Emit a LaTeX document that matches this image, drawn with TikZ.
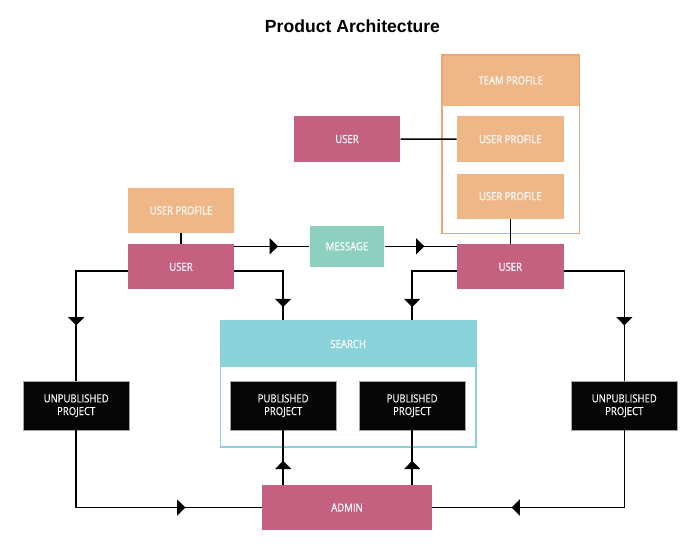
\documentclass[tikz,border=0pt]{standalone}
\usepackage{fontspec}
\setmainfont{Liberation Sans}
\newfontfamily\boxfont[FakeStretch=0.85,FakeBold=0.3]{Open Sans}
\usetikzlibrary{arrows.meta,decorations.markings}
\definecolor{rose}{RGB}{197,97,128}
\definecolor{peach}{RGB}{239,182,136}
\definecolor{peachline}{RGB}{236,168,116}
\definecolor{mint}{RGB}{142,208,192}
\definecolor{aqua}{RGB}{139,211,218}
\definecolor{ink}{RGB}{6,6,6}
\tikzset{
  box/.style={rectangle, inner sep=0pt, text=white, align=center,
    font=\boxfont\fontsize{8.4pt}{9.5pt}\selectfont},
  rosebox/.style={box, fill=rose},
  peachbox/.style={box, fill=peach},
  inkbox/.style={box, fill=ink, draw=gray!70, line width=0.5pt,
    minimum width=79.9pt, minimum height=36.5pt},
  conn/.style={line width=1.1pt, draw=black},
  tipmark/.style={postaction={decorate}, decoration={markings,
    mark=at position #1 with {\arrow{Triangle[length=6.2pt,width=12pt]}}}},
  titletext/.style={font=\fontsize{13.2pt}{15pt}\selectfont\bfseries}
}
\begin{document}
\begin{tikzpicture}[x=0.75pt,y=-0.75pt]
\useasboundingbox (0,0) rectangle (700,558);
\node[titletext] (title) at (352.5,26) {Product Architecture};

% team profile group
\node[peachbox, minimum width=103pt, minimum height=38pt] (teamhead) at (510.7,80.35) {TEAM PROFILE};
\node[draw=peachline, line width=1.2pt, minimum width=103pt, minimum height=133.7pt, inner sep=0pt] (team) at (510.7,144.2) {};
\node[peachbox, minimum width=80pt, minimum height=34.3pt] (upin1) at (510.3,139.2) {USER PROFILE};
\node[peachbox, minimum width=80pt, minimum height=33.75pt] (upin2) at (510.3,196.2) {USER PROFILE};

\node[rosebox, minimum width=80pt, minimum height=34.3pt] (usertop) at (347,139) {USER};

\node[peachbox, minimum width=79.5pt, minimum height=33.75pt] (upL) at (181,210.5) {USER PROFILE};
\node[rosebox, minimum width=79.5pt, minimum height=33.75pt] (userL) at (181,266.8) {USER};
\node[box, fill=mint, minimum width=56pt, minimum height=31pt] (message) at (347,246.3) {MESSAGE};
\node[rosebox, minimum width=80pt, minimum height=33.75pt] (userR) at (510.3,266.8) {USER};

% search group
\node[box, fill=aqua, minimum width=191.6pt, minimum height=34.5pt] (searchhead) at (348.2,344) {SEARCH};
\node[draw=aqua, line width=1.1pt, minimum width=191.6pt, minimum height=94.5pt, inner sep=0pt] (search) at (348.2,384) {};
\node[inkbox] (pub1) at (283.2,405.7) {PUBLISHED\\PROJECT};
\node[inkbox] (pub2) at (412.2,405.7) {PUBLISHED\\PROJECT};

\node[inkbox] (unpubL) at (76.2,405.7) {UNPUBLISHED\\PROJECT};
\node[inkbox] (unpubR) at (624.3,405.7) {UNPUBLISHED\\PROJECT};

\node[rosebox, minimum width=126.8pt, minimum height=33.75pt] (admin) at (347,507.5) {ADMIN};

% connectors
\draw[conn] (upL) -- (userL);
\draw[conn] (usertop) -- (upin1);
\draw[conn] (upin2) -- (userR);
\draw[conn, tipmark=32.8pt] (message.west -| userL.east) -- (message.west);
\draw[conn, tipmark=29.8pt] (message.east) -- (message.east -| userR.west);
\draw[conn, tipmark=79.6pt] ([yshift=-3pt]userL.west) -| (unpubL.north);
\draw[conn, tipmark=63.9pt] ([yshift=-3pt]userL.east) -| (pub1.north |- search.north);
\draw[conn, tipmark=60.6pt] ([yshift=-3pt]userR.west) -| (pub2.north |- search.north);
\draw[conn, tipmark=86.2pt] ([yshift=-3pt]userR.east) -| (unpubR.north);
\draw[conn, tipmark=18pt] (admin.north -| pub1.south) -- (pub1.south);
\draw[conn, tipmark=18pt] (admin.north -| pub2.south) -- (pub2.south);
\draw[conn, tipmark=139.7pt] (unpubL.south) |- (admin.west);
\draw[conn, tipmark=142.4pt] (unpubR.south) |- (admin.east);
\end{tikzpicture}
\end{document}
